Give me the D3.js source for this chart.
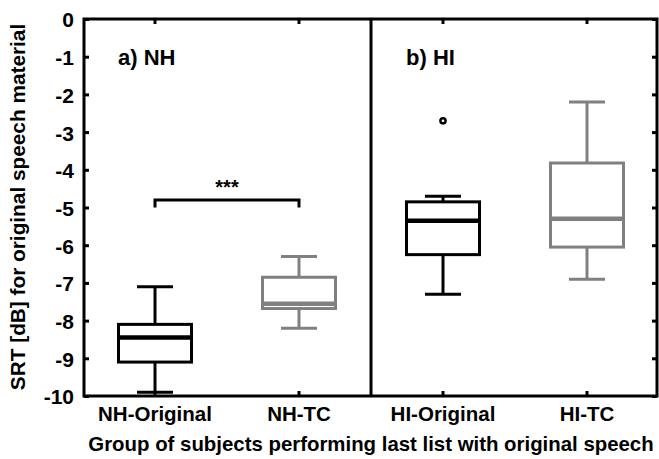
<!DOCTYPE html>
<html>
<head>
<meta charset="utf-8">
<script src="https://cdn.jsdelivr.net/npm/d3@7"></script>
<style>
  html, body { margin: 0; padding: 0; background: #fff; }
  svg { display: block; }
  text { font-family: "Liberation Sans", Arial, sans-serif; font-weight: bold; fill: #000; }
</style>
</head>
<body>
<svg id="chart" width="659" height="459"></svg>
<script>
// Speech reception thresholds per subject group (box-and-whisker summaries, dB)
const categories  = ["NH-Original", "NH-TC", "HI-Original", "HI-TC"];
const whiskerLow  = [-9.9, -8.2, -7.3, -6.9];
const quartile1   = [-9.1, -7.68, -6.25, -6.05];
const medians     = [-8.45, -7.55, -5.35, -5.3];
const quartile3   = [-8.1, -6.85, -4.85, -3.82];
const whiskerHigh = [-7.1, -6.3, -4.7, -2.2];
const boxColors   = ["#000000", "#808080", "#000000", "#808080"];
const outliers    = [{ group: "HI-Original", value: -2.7 }];
const yTicks      = [0, -1, -2, -3, -4, -5, -6, -7, -8, -9, -10];
const panelLabels = [{ group: "NH-Original", text: "a) NH" }, { group: "HI-Original", text: "b) HI" }];
const significance = { from: "NH-Original", to: "NH-TC", value: -4.8, drop: -5.0, text: "***" };

const svg = d3.select("#chart");
const plotLeft = 84, plotRight = 657, plotTop = 19, plotBottom = 396;

const x = d3.scaleBand().domain(categories).range([83, 659]).padding(0);
const y = d3.scaleLinear().domain([-10, 0]).range([plotBottom, plotTop]);
const cx = c => x(c) + x.bandwidth() / 2;

const boxW = 73, capW = 36;

// Axes: inward ticks on all four sides
const yAxis = svg.append("g").attr("transform", `translate(${plotLeft},0)`)
  .call(d3.axisLeft(y).tickValues(yTicks).tickSize(-5).tickPadding(10).tickFormat(d => String(d)));
yAxis.select(".domain").remove();
yAxis.selectAll("line").attr("stroke", "#000").attr("stroke-width", 3);
yAxis.selectAll("text").style("font-size", "21px").attr("fill", "#000").attr("dy", "0.38em");

const yRight = svg.append("g").attr("transform", `translate(${plotRight},0)`)
  .call(d3.axisRight(y).tickValues(yTicks).tickSize(-5).tickFormat(""));
yRight.select(".domain").remove();
yRight.selectAll("line").attr("stroke", "#000").attr("stroke-width", 3);

const xAxis = svg.append("g").attr("transform", `translate(0,${plotBottom})`)
  .call(d3.axisBottom(x).tickSize(-5).tickPadding(10));
xAxis.select(".domain").remove();
xAxis.selectAll("line").attr("stroke", "#000").attr("stroke-width", 3);
xAxis.selectAll("text").style("font-size", "20.5px").attr("fill", "#000");

const xTop = svg.append("g").attr("transform", `translate(0,${plotTop})`)
  .call(d3.axisTop(x).tickSize(-5).tickFormat(""));
xTop.select(".domain").remove();
xTop.selectAll("line").attr("stroke", "#000").attr("stroke-width", 3);

// Boxes
const data = categories.map((c, i) => ({
  c, lo: whiskerLow[i], q1: quartile1[i], med: medians[i], q3: quartile3[i], hi: whiskerHigh[i], col: boxColors[i]
}));

const g = svg.append("g").attr("fill", "none").attr("stroke-width", 3);
data.forEach(d => {
  const m = cx(d.c);
  const bx = g.append("g").attr("stroke", d.col);
  // whiskers
  bx.append("line").attr("x1", m).attr("x2", m).attr("y1", y(d.hi)).attr("y2", y(d.q3));
  bx.append("line").attr("x1", m).attr("x2", m).attr("y1", y(d.q1)).attr("y2", y(d.lo));
  bx.append("line").attr("x1", m - capW / 2).attr("x2", m + capW / 2).attr("y1", y(d.hi)).attr("y2", y(d.hi));
  bx.append("line").attr("x1", m - capW / 2).attr("x2", m + capW / 2).attr("y1", y(d.lo)).attr("y2", y(d.lo));
  // box
  bx.append("rect").attr("x", m - boxW / 2).attr("width", boxW)
    .attr("y", y(d.q3)).attr("height", y(d.q1) - y(d.q3)).attr("fill", "#fff");
  // median
  bx.append("line").attr("x1", m - boxW / 2).attr("x2", m + boxW / 2)
    .attr("y1", y(d.med)).attr("y2", y(d.med)).attr("stroke-width", 4.5);
});

// Outliers
svg.selectAll("circle.outlier").data(outliers).join("circle")
  .attr("class", "outlier")
  .attr("cx", d => cx(d.group)).attr("cy", d => y(d.value)).attr("r", 2.6)
  .attr("fill", "#fff").attr("stroke", "#000").attr("stroke-width", 2.5);

// Frame and panel divider
svg.append("rect").attr("x", plotLeft).attr("y", plotTop)
  .attr("width", plotRight - plotLeft).attr("height", plotBottom - plotTop)
  .attr("fill", "none").attr("stroke", "#000").attr("stroke-width", 3);
svg.append("line").attr("x1", x("HI-Original")).attr("x2", x("HI-Original"))
  .attr("y1", plotTop).attr("y2", plotBottom).attr("stroke", "#000").attr("stroke-width", 3);

// Significance bracket
const sx1 = cx(significance.from), sx2 = cx(significance.to);
svg.append("path")
  .attr("d", `M${sx1},${y(significance.drop)}V${y(significance.value)}H${sx2}V${y(significance.drop)}`)
  .attr("fill", "none").attr("stroke", "#000").attr("stroke-width", 3);
svg.append("text").attr("x", (sx1 + sx2) / 2).attr("y", y(significance.value) - 6)
  .attr("text-anchor", "middle").style("font-size", "20px").text(significance.text);

// Panel labels
svg.selectAll("text.panel").data(panelLabels).join("text")
  .attr("class", "panel")
  .attr("x", d => cx(d.group) - 37).attr("y", 65)
  .style("font-size", "22px").text(d => d.text);

// Axis titles
svg.append("text").attr("transform", "translate(25,207) rotate(-90)")
  .attr("text-anchor", "middle").style("font-size", "20.8px")
  .text("SRT [dB] for original speech material");
svg.append("text").attr("x", 371).attr("y", 451)
  .attr("text-anchor", "middle").style("font-size", "20.4px")
  .text("Group of subjects performing last list with original speech");
</script>
</body>
</html>
